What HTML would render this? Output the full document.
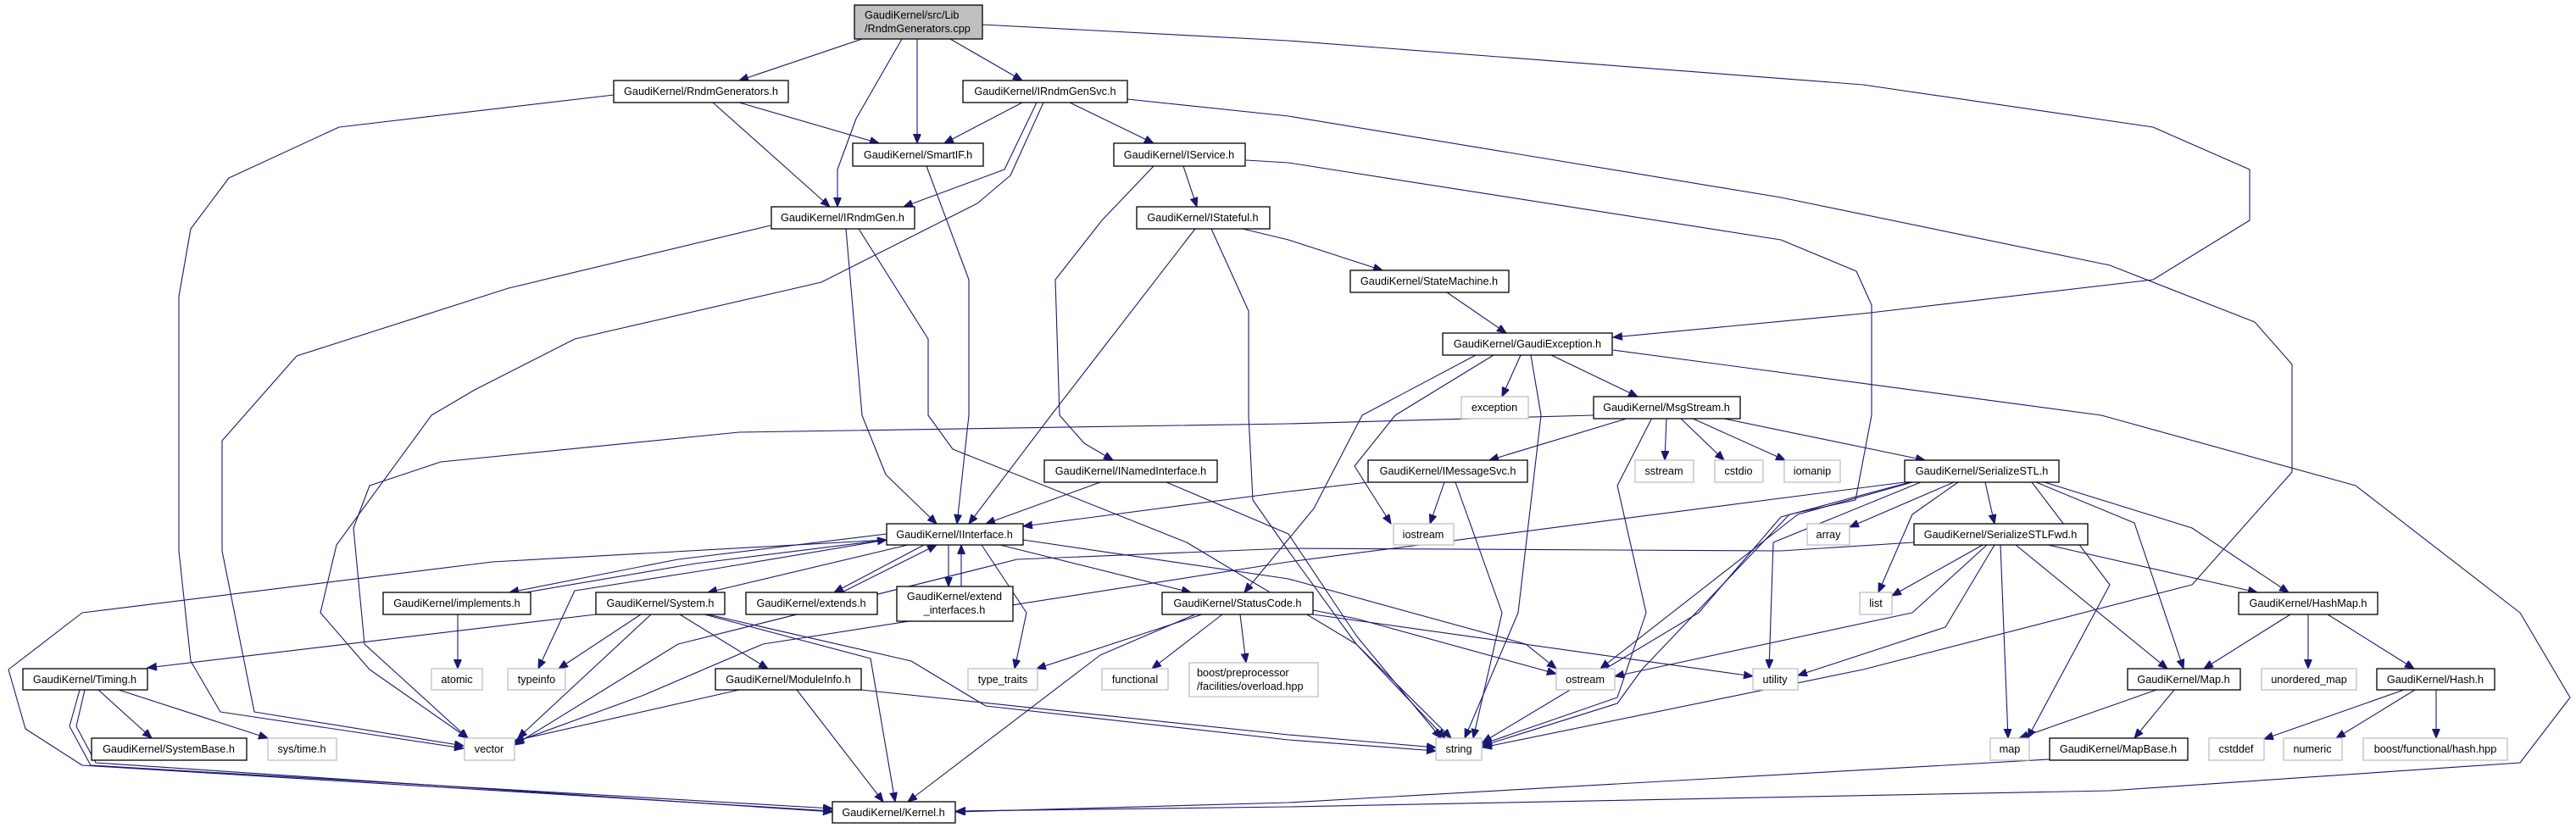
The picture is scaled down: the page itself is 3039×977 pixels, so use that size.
<!DOCTYPE html>
<html><head><meta charset="utf-8"><style>
html,body{margin:0;padding:0;background:#fff;}
svg{display:block;}
text{font-family:"Liberation Sans",Arial,sans-serif;font-size:12.7px;fill:#000;}
.d{fill:#fff;stroke:#000;stroke-width:1.3;}
.u{fill:#fff;stroke:#bfbfbf;stroke-width:1.3;}
polyline{fill:none;stroke:#191970;stroke-width:1.1;stroke-linejoin:round;marker-end:url(#a);}
</style></head><body>
<svg width="3039" height="977" viewBox="0 0 3039 977" xmlns="http://www.w3.org/2000/svg">
<defs><marker id="a" markerUnits="userSpaceOnUse" markerWidth="12" markerHeight="10" refX="11" refY="4.5" orient="auto"><path d="M0,0 L11,4.5 L0,9 z" fill="#191970" stroke="#191970"/></marker></defs>
<g>
<polyline points="1017,46 872,95"/>
<polyline points="1064,46 1010,140 988,200 988,244"/>
<polyline points="1082,46 1082,169"/>
<polyline points="1121,46 1206,95"/>
<polyline points="1158,29 1520,48 2198,100 2540,150 2654,200 2654,260 2540,330 2198,370 1903,398"/>
<polyline points="724,112 400,150 270,210 225,270 211,350 211,490 211,650 225,780 260,840 547,883"/>
<polyline points="872,121 1037,169"/>
<polyline points="841,121 979,244"/>
<polyline points="1206,121 1114,169"/>
<polyline points="1223,121 1185,200 1066,244"/>
<polyline points="1262,121 1361,169"/>
<polyline points="1231,121 1192,207 1153,240 969,333 678,400 560,460 509,490 397,643 378,723 436,790 552,871"/>
<polyline points="1330,117 1520,137 2101,233 2489,313 2660,380 2704,430 2704,490 2704,557 2586,690 2198,790 1749,882"/>
<polyline points="1396,196 1412,244"/>
<polyline points="1361,196 1300,260 1245,330 1250,490 1279,523 1313,543"/>
<polyline points="1470,189 1520,192 2101,283 2190,320 2208,360 2208,490 2189,590 2111,607 1937,790 1908,830 1749,880"/>
<polyline points="1410,270 1240,490 1143,618"/>
<polyline points="1429,270 1473,367 1473,490 1478,590 1520,650 1600,760 1712,871"/>
<polyline points="1466,270 1520,283 1631,319"/>
<polyline points="998,270 1017,490 1045,560 1105,618"/>
<polyline points="1013,270 1095,400 1095,490 1124,530 1400,640 1600,760 1705,871"/>
<polyline points="909,266 600,340 350,420 262,520 262,650 300,840 547,880"/>
<polyline points="1093,196 1143,330 1143,490 1129,618"/>
<polyline points="1707,345 1777,393"/>
<polyline points="1794,419 1772,468"/>
<polyline points="1830,419 1932,468"/>
<polyline points="1806,419 1818,490 1791,723 1728,871"/>
<polyline points="1762,419 1646,490 1598,550 1641,618"/>
<polyline points="1741,419 1607,490 1550,600 1468,699"/>
<polyline points="1903,413 2479,490 2779,573 2973,723 3032,823 2973,900 2489,933 1520,952 1128,957"/>
<polyline points="1922,493 1757,543"/>
<polyline points="1966,493 1964,543"/>
<polyline points="1982,493 2034,543"/>
<polyline points="1995,493 2106,543"/>
<polyline points="2029,493 2271,543"/>
<polyline points="1949,493 1908,573 1942,723 1908,823 1749,878"/>
<polyline points="1880,490 1520,500 872,510 520,545 436,573 417,623 430,760 552,871"/>
<polyline points="1704,569 1687,618"/>
<polyline points="1717,569 1772,723 1738,871"/>
<polyline points="1614,569 1520,580 1207,621"/>
<polyline points="1298,569 1163,618"/>
<polyline points="1376,569 1520,630 1600,750 1700,871"/>
<polyline points="2342,569 2353,618"/>
<polyline points="2305,569 2182,622"/>
<polyline points="2310,569 2256,607 2216,699"/>
<polyline points="2256,569 2121,607 1888,789"/>
<polyline points="2253,569 2101,610 2004,723 1749,876"/>
<polyline points="2266,569 2092,640 2087,789"/>
<polyline points="2247,569 1520,663 900,760 760,820 607,876"/>
<polyline points="2397,569 2489,690 2392,871"/>
<polyline points="2402,569 2518,617 2576,789"/>
<polyline points="2412,569 2586,623 2700,699"/>
<polyline points="2339,643 2232,703"/>
<polyline points="2344,643 2256,723 1905,798"/>
<polyline points="2353,643 2295,740 2121,797"/>
<polyline points="2360,643 2369,871"/>
<polyline points="2378,643 2557,789"/>
<polyline points="2416,643 2663,699"/>
<polyline points="2258,640 2101,650 1520,647 1200,660 800,760 607,879"/>
<polyline points="2702,725 2600,789"/>
<polyline points="2723,725 2723,789"/>
<polyline points="2746,725 2848,789"/>
<polyline points="2544,814 2382,871"/>
<polyline points="2565,814 2518,871"/>
<polyline points="2418,896 1520,947 1128,958"/>
<polyline points="2836,814 2671,872"/>
<polyline points="2849,814 2756,871"/>
<polyline points="2874,814 2874,871"/>
<polyline points="1046,630 800,660 601,699"/>
<polyline points="620,699 820,665 1046,637"/>
<polyline points="1071,643 835,699"/>
<polyline points="1090,643 984,699"/>
<polyline points="993,699 1105,643"/>
<polyline points="1119,643 1119,692"/>
<polyline points="1134,692 1134,643"/>
<polyline points="1180,643 1405,699"/>
<polyline points="1046,637 850,670 678,697 635,789"/>
<polyline points="1158,643 1211,723 1197,789"/>
<polyline points="1207,637 1520,683 1800,760 1836,789"/>
<polyline points="1046,637 581,663 97,723 10,790 30,860 97,903 982,957"/>
<polyline points="540,725 540,789"/>
<polyline points="703,725 174,788"/>
<polyline points="756,725 659,789"/>
<polyline points="768,725 611,871"/>
<polyline points="802,725 906,789"/>
<polyline points="831,725 1027,777 1056,946"/>
<polyline points="835,725 1075,780 1163,833 1520,873 1694,886"/>
<polyline points="872,814 607,874"/>
<polyline points="1016,814 1520,867 1694,882"/>
<polyline points="940,814 1042,946"/>
<polyline points="116,814 179,871"/>
<polyline points="140,814 316,871"/>
<polyline points="94,814 82,857 107,903 982,954"/>
<polyline points="100,814 90,857 113,900 982,958"/>
<polyline points="1418,725 1223,789"/>
<polyline points="1442,725 1359,789"/>
<polyline points="1463,725 1470,782"/>
<polyline points="1410,725 1298,773 1071,946"/>
<polyline points="1549,720 1600,730 1836,795"/>
<polyline points="1549,725 2068,798"/>
</g>
<g>
<rect x="1008" y="6" width="151" height="40" style="fill:#bfbfbf;stroke:#000;stroke-width:1.3"/>
<text x="1020" y="22">GaudiKernel/src/Lib</text><text x="1020" y="38">/RndmGenerators.cpp</text>
<rect class="d" x="724" y="95" width="206" height="26"/><text x="827" y="112" text-anchor="middle">GaudiKernel/RndmGenerators.h</text>
<rect class="d" x="1136" y="95" width="194" height="26"/><text x="1233" y="112" text-anchor="middle">GaudiKernel/IRndmGenSvc.h</text>
<rect class="d" x="1006" y="169" width="154" height="27"/><text x="1083" y="187" text-anchor="middle">GaudiKernel/SmartIF.h</text>
<rect class="d" x="1314" y="169" width="155" height="27"/><text x="1391" y="187" text-anchor="middle">GaudiKernel/IService.h</text>
<rect class="d" x="910" y="244" width="169" height="26"/><text x="994" y="261" text-anchor="middle">GaudiKernel/IRndmGen.h</text>
<rect class="d" x="1341" y="244" width="157" height="26"/><text x="1419" y="261" text-anchor="middle">GaudiKernel/IStateful.h</text>
<rect class="d" x="1593" y="319" width="187" height="26"/><text x="1686" y="336" text-anchor="middle">GaudiKernel/StateMachine.h</text>
<rect class="d" x="1702" y="393" width="200" height="26"/><text x="1802" y="410" text-anchor="middle">GaudiKernel/GaudiException.h</text>
<rect class="u" x="1724" y="468" width="79" height="26"/><text x="1763" y="485" text-anchor="middle">exception</text>
<rect class="d" x="1880" y="468" width="173" height="26"/><text x="1966" y="485" text-anchor="middle">GaudiKernel/MsgStream.h</text>
<rect class="d" x="1232" y="543" width="204" height="26"/><text x="1334" y="560" text-anchor="middle">GaudiKernel/INamedInterface.h</text>
<rect class="d" x="1614" y="543" width="188" height="26"/><text x="1708" y="560" text-anchor="middle">GaudiKernel/IMessageSvc.h</text>
<rect class="u" x="1929" y="543" width="69" height="26"/><text x="1963" y="560" text-anchor="middle">sstream</text>
<rect class="u" x="2023" y="543" width="57" height="26"/><text x="2051" y="560" text-anchor="middle">cstdio</text>
<rect class="u" x="2105" y="543" width="66" height="26"/><text x="2138" y="560" text-anchor="middle">iomanip</text>
<rect class="d" x="2247" y="543" width="182" height="26"/><text x="2338" y="560" text-anchor="middle">GaudiKernel/SerializeSTL.h</text>
<rect class="d" x="1046" y="618" width="161" height="25"/><text x="1126" y="635" text-anchor="middle">GaudiKernel/IInterface.h</text>
<rect class="u" x="1644" y="618" width="71" height="25"/><text x="1679" y="635" text-anchor="middle">iostream</text>
<rect class="u" x="2132" y="618" width="50" height="25"/><text x="2157" y="635" text-anchor="middle">array</text>
<rect class="d" x="2258" y="618" width="205" height="25"/><text x="2360" y="635" text-anchor="middle">GaudiKernel/SerializeSTLFwd.h</text>
<rect class="d" x="452" y="699" width="174" height="26"/><text x="539" y="716" text-anchor="middle">GaudiKernel/implements.h</text>
<rect class="d" x="703" y="699" width="152" height="26"/><text x="779" y="716" text-anchor="middle">GaudiKernel/System.h</text>
<rect class="d" x="880" y="699" width="155" height="26"/><text x="957" y="716" text-anchor="middle">GaudiKernel/extends.h</text>
<rect class="d" x="1058" y="692" width="137" height="41"/><text x="1126" y="708" text-anchor="middle">GaudiKernel/extend</text><text x="1126" y="724" text-anchor="middle">_interfaces.h</text>
<rect class="d" x="1371" y="699" width="178" height="26"/><text x="1460" y="716" text-anchor="middle">GaudiKernel/StatusCode.h</text>
<rect class="u" x="2194" y="699" width="38" height="26"/><text x="2213" y="716" text-anchor="middle">list</text>
<rect class="d" x="2641" y="699" width="164" height="26"/><text x="2723" y="716" text-anchor="middle">GaudiKernel/HashMap.h</text>
<rect class="d" x="27" y="789" width="147" height="25"/><text x="100" y="806" text-anchor="middle">GaudiKernel/Timing.h</text>
<rect class="u" x="509" y="789" width="60" height="25"/><text x="539" y="806" text-anchor="middle">atomic</text>
<rect class="u" x="599" y="789" width="68" height="25"/><text x="633" y="806" text-anchor="middle">typeinfo</text>
<rect class="d" x="844" y="789" width="172" height="25"/><text x="930" y="806" text-anchor="middle">GaudiKernel/ModuleInfo.h</text>
<rect class="u" x="1142" y="789" width="82" height="25"/><text x="1183" y="806" text-anchor="middle">type_traits</text>
<rect class="u" x="1300" y="789" width="78" height="25"/><text x="1339" y="806" text-anchor="middle">functional</text>
<rect class="u" x="1403" y="782" width="152" height="40"/><text x="1412" y="798">boost/preprocessor</text><text x="1412" y="814">/facilities/overload.hpp</text>
<rect class="u" x="1836" y="789" width="69" height="25"/><text x="1870" y="806" text-anchor="middle">ostream</text>
<rect class="u" x="2068" y="789" width="53" height="25"/><text x="2094" y="806" text-anchor="middle">utility</text>
<rect class="d" x="2510" y="789" width="133" height="25"/><text x="2576" y="806" text-anchor="middle">GaudiKernel/Map.h</text>
<rect class="u" x="2668" y="789" width="112" height="25"/><text x="2724" y="806" text-anchor="middle">unordered_map</text>
<rect class="d" x="2804" y="789" width="139" height="25"/><text x="2873" y="806" text-anchor="middle">GaudiKernel/Hash.h</text>
<rect class="d" x="108" y="871" width="183" height="26"/><text x="199" y="888" text-anchor="middle">GaudiKernel/SystemBase.h</text>
<rect class="u" x="316" y="871" width="81" height="26"/><text x="356" y="888" text-anchor="middle">sys/time.h</text>
<rect class="u" x="548" y="871" width="59" height="26"/><text x="577" y="888" text-anchor="middle">vector</text>
<rect class="u" x="1694" y="871" width="54" height="26"/><text x="1721" y="888" text-anchor="middle">string</text>
<rect class="u" x="2348" y="871" width="46" height="26"/><text x="2371" y="888" text-anchor="middle">map</text>
<rect class="d" x="2418" y="871" width="163" height="26"/><text x="2499" y="888" text-anchor="middle">GaudiKernel/MapBase.h</text>
<rect class="u" x="2606" y="871" width="65" height="26"/><text x="2638" y="888" text-anchor="middle">cstddef</text>
<rect class="u" x="2694" y="871" width="69" height="26"/><text x="2728" y="888" text-anchor="middle">numeric</text>
<rect class="u" x="2788" y="871" width="170" height="26"/><text x="2873" y="888" text-anchor="middle">boost/functional/hash.hpp</text>
<rect class="d" x="982" y="946" width="145" height="25"/><text x="1054" y="963" text-anchor="middle">GaudiKernel/Kernel.h</text>
</g>
</svg>
</body></html>
